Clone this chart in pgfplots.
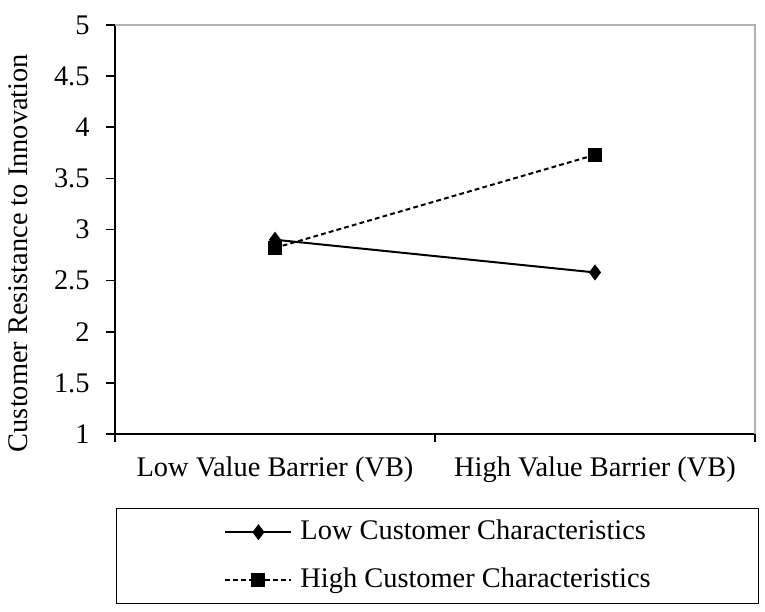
\documentclass[border=0pt]{standalone}
\usepackage{fontspec}
\setmainfont{Liberation Serif}
\usepackage{pgfplots}
\pgfplotsset{compat=1.18}
\begin{document}
\fontsize{14.2pt}{17pt}\selectfont
\begin{tikzpicture}
\useasboundingbox (0,0) rectangle (382.5pt,-305.5pt);
\begin{axis}[
  at={(57.5pt,-217pt)}, anchor=south west,
  width=320pt, height=204.5pt, scale only axis,
  xmin=-0.5, xmax=1.5, ymin=1, ymax=5,
  clip=false,
  axis lines*=left,
  axis line style={line width=0.8pt, -},
  tick align=outside,
  xtick={0,1},
  xticklabels={Low Value Barrier (VB), High Value Barrier (VB)},
  minor xtick={-0.5,0.5,1.5},
  major x tick style={draw=none},
  minor tick length=4pt,
  major tick length=4.5pt,
  every tick/.style={black, line width=0.8pt},
  ytick={1,1.5,2,2.5,3,3.5,4,4.5,5},
  /pgf/number format/assume math mode=true,
  yticklabel style={xshift=-3.3pt},
  xticklabel style={anchor=base, yshift=-16.5pt},
  ylabel={Customer Resistance to Innovation},
  ylabel style={at={(axis description cs:-0.1375,0.4425)}, anchor=base},
  legend cell align=left,
  legend style={at={(axis description cs:0.504,-0.181)}, anchor=north,
    draw=black, line width=0.6pt, inner xsep=54pt, inner ysep=5.25pt,
    row sep=11pt,
    nodes={scale=1, inner sep=0pt, text height=10pt, text depth=3pt}},
  legend image code/.code={
    \draw[#1] (0pt,0pt) -- (33pt,0pt);
    \draw[#1, solid] plot coordinates {(16.5pt,0pt)};
    \path (37pt,0pt);
  },
]
\draw[gray!60, line width=0.6pt] (rel axis cs:0,1) -- (rel axis cs:1,1) -- (rel axis cs:1,0);
\addplot[black, line width=1pt, mark=diamond*, mark size=3.2pt] coordinates {(0,2.90) (1,2.58)};
\addlegendentry{Low Customer Characteristics}
\addplot[black, line width=1pt, dash pattern=on 2.4pt off 1.6pt, mark=square*, mark size=3pt, mark options={solid}] coordinates {(0,2.82) (1,3.73)};
\addlegendentry{High Customer Characteristics}
\end{axis}
\end{tikzpicture}
\end{document}
